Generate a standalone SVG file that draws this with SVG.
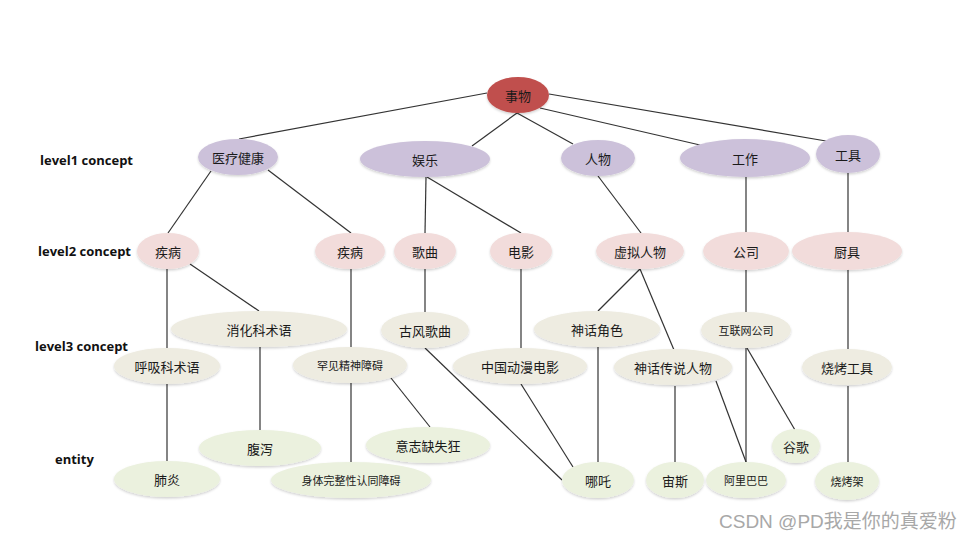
<svg xmlns="http://www.w3.org/2000/svg" width="970" height="540" viewBox="0 0 970 540">
<style>
.bg{fill:#ffffff}
.e{filter:url(#sh)}
.root{fill:#c0504d}
.l1{fill:#ccc1da}
.l2{fill:#f2dcdb}
.l3{fill:#eeece1}
.en{fill:#ebf1de}
.t{font-family:"Noto Sans CJK SC","Noto Sans CJK JP",sans-serif;font-size:13px;fill:#1a1a1a;text-anchor:middle;dominant-baseline:central}
.s{font-size:11px}
.lab{font-family:"Open Sans","Liberation Sans",sans-serif;font-size:13px;font-weight:bold;fill:#111}
.wm{font-family:"Liberation Sans","Noto Sans CJK SC",sans-serif;font-size:19px;fill:#a8a8a8}
#edges line{stroke:#333;stroke-width:1.2}
</style>
<defs>
<filter id="sh" x="-10%" y="-20%" width="120%" height="150%">
<feDropShadow dx="0" dy="1.5" stdDeviation="1" flood-color="#000" flood-opacity="0.18"/>
</filter>
</defs>
<rect class="bg" width="970" height="540"/>
<g id="labels">
<text class="lab" x="40" y="165">level1  concept</text>
<text class="lab" x="38" y="256">level2 concept</text>
<text class="lab" x="35" y="351">level3 concept</text>
<text class="lab" x="55" y="464">entity</text>
</g>
<g id="edges">
<line x1="487" y1="93" x2="239" y2="139"/>
<line x1="517" y1="113" x2="472" y2="146"/>
<line x1="517" y1="113" x2="573" y2="144"/>
<line x1="540" y1="108" x2="700" y2="145"/>
<line x1="549" y1="94" x2="826" y2="141"/>
<line x1="211" y1="171" x2="168" y2="233"/>
<line x1="268" y1="170" x2="351" y2="233"/>
<line x1="426" y1="177" x2="425" y2="233"/>
<line x1="427" y1="177" x2="521" y2="233"/>
<line x1="598" y1="176" x2="641" y2="233"/>
<line x1="746" y1="177" x2="746" y2="233"/>
<line x1="848" y1="173" x2="848" y2="233"/>
<line x1="167" y1="269" x2="167" y2="348"/>
<line x1="190" y1="264" x2="259" y2="311"/>
<line x1="351" y1="269" x2="351" y2="347"/>
<line x1="425" y1="269" x2="425" y2="312"/>
<line x1="521" y1="269" x2="521" y2="348"/>
<line x1="640" y1="269" x2="598" y2="311"/>
<line x1="640" y1="269" x2="674" y2="350"/>
<line x1="746" y1="269" x2="746" y2="312"/>
<line x1="848" y1="269" x2="848" y2="349"/>
<line x1="167" y1="384" x2="167" y2="461"/>
<line x1="260" y1="347" x2="260" y2="430"/>
<line x1="351" y1="383" x2="351" y2="462"/>
<line x1="391" y1="378" x2="430" y2="427"/>
<line x1="425" y1="348" x2="562" y2="480"/>
<line x1="521" y1="384" x2="573" y2="467"/>
<line x1="598" y1="347" x2="598" y2="462"/>
<line x1="675" y1="386" x2="675" y2="462"/>
<line x1="716" y1="381" x2="746" y2="462"/>
<line x1="746" y1="348" x2="746" y2="462"/>
<line x1="747" y1="348" x2="795" y2="430"/>
<line x1="848" y1="386" x2="848" y2="462"/>
</g>
<g id="n-root"><ellipse class="e root" cx="518" cy="95" rx="31" ry="18"/><text class="t" x="518" y="95">事物</text></g>
<g id="n-yiliao"><ellipse class="e l1" cx="238" cy="157" rx="40" ry="18"/><text class="t" x="238" y="157">医疗健康</text></g>
<g id="n-yule"><ellipse class="e l1" cx="425" cy="159" rx="65" ry="18"/><text class="t" x="425" y="159">娱乐</text></g>
<g id="n-renwu"><ellipse class="e l1" cx="598" cy="158" rx="37" ry="18"/><text class="t" x="598" y="158">人物</text></g>
<g id="n-gongzuo"><ellipse class="e l1" cx="745" cy="158" rx="65" ry="19"/><text class="t" x="745" y="158">工作</text></g>
<g id="n-gongju"><ellipse class="e l1" cx="848" cy="154" rx="32" ry="19"/><text class="t" x="848" y="154">工具</text></g>
<g id="n-jibing1"><ellipse class="e l2" cx="168" cy="251" rx="31" ry="18"/><text class="t" x="168" y="251">疾病</text></g>
<g id="n-jibing2"><ellipse class="e l2" cx="350" cy="251" rx="35" ry="18"/><text class="t" x="350" y="251">疾病</text></g>
<g id="n-gequ"><ellipse class="e l2" cx="425" cy="251" rx="31" ry="18"/><text class="t" x="425" y="251">歌曲</text></g>
<g id="n-dianying"><ellipse class="e l2" cx="521" cy="251" rx="31" ry="18"/><text class="t" x="521" y="251">电影</text></g>
<g id="n-xuni"><ellipse class="e l2" cx="640" cy="251" rx="44" ry="18"/><text class="t" x="640" y="251">虚拟人物</text></g>
<g id="n-gongsi"><ellipse class="e l2" cx="746" cy="251" rx="43" ry="19"/><text class="t" x="746" y="251">公司</text></g>
<g id="n-chuju"><ellipse class="e l2" cx="847" cy="251" rx="55" ry="19"/><text class="t" x="847" y="251">厨具</text></g>
<g id="n-xiaohua"><ellipse class="e l3" cx="259" cy="329" rx="88" ry="18"/><text class="t" x="259" y="329">消化科术语</text></g>
<g id="n-gufeng"><ellipse class="e l3" cx="425" cy="330" rx="44" ry="18"/><text class="t" x="425" y="330">古风歌曲</text></g>
<g id="n-shenhuajs"><ellipse class="e l3" cx="597" cy="329" rx="63" ry="18"/><text class="t" x="597" y="329">神话角色</text></g>
<g id="n-hulianwang"><ellipse class="e l3" cx="746" cy="330" rx="45" ry="18"/><text class="t s" x="746" y="330">互联网公司</text></g>
<g id="n-huxi"><ellipse class="e l3" cx="167" cy="366" rx="53" ry="18"/><text class="t" x="167" y="366">呼吸科术语</text></g>
<g id="n-hanjian"><ellipse class="e l3" cx="350" cy="365" rx="57" ry="18"/><text class="t s" x="350" y="365">罕见精神障碍</text></g>
<g id="n-dongman"><ellipse class="e l3" cx="520" cy="366" rx="67" ry="18"/><text class="t" x="520" y="366">中国动漫电影</text></g>
<g id="n-shenhuacs"><ellipse class="e l3" cx="673" cy="367" rx="59" ry="18"/><text class="t" x="673" y="367">神话传说人物</text></g>
<g id="n-shaokaogj"><ellipse class="e l3" cx="847" cy="367" rx="45" ry="18"/><text class="t" x="847" y="367">烧烤工具</text></g>
<g id="n-fuxie"><ellipse class="e en" cx="260" cy="448" rx="61" ry="18"/><text class="t" x="260" y="448">腹泻</text></g>
<g id="n-yizhi"><ellipse class="e en" cx="428" cy="445" rx="62" ry="18"/><text class="t" x="428" y="445">意志缺失狂</text></g>
<g id="n-guge"><ellipse class="e en" cx="796" cy="446" rx="24" ry="17"/><text class="t" x="796" y="446">谷歌</text></g>
<g id="n-feiyan"><ellipse class="e en" cx="167" cy="479" rx="53" ry="18"/><text class="t" x="167" y="479">肺炎</text></g>
<g id="n-shenti"><ellipse class="e en" cx="351" cy="480" rx="80" ry="18"/><text class="t s" x="351" y="480">身体完整性认同障碍</text></g>
<g id="n-nezha"><ellipse class="e en" cx="598" cy="480" rx="36" ry="18"/><text class="t" x="598" y="480">哪吒</text></g>
<g id="n-zhousi"><ellipse class="e en" cx="675" cy="480" rx="29" ry="18"/><text class="t" x="675" y="480">宙斯</text></g>
<g id="n-alibaba"><ellipse class="e en" cx="746" cy="480" rx="40" ry="18"/><text class="t s" x="746" y="480">阿里巴巴</text></g>
<g id="n-shaokaojia"><ellipse class="e en" cx="847" cy="481" rx="32" ry="19"/><text class="t s" x="847" y="481">烧烤架</text></g>
<text class="wm" x="719" y="528">CSDN @PD我是你的真爱粉</text>
</svg>
